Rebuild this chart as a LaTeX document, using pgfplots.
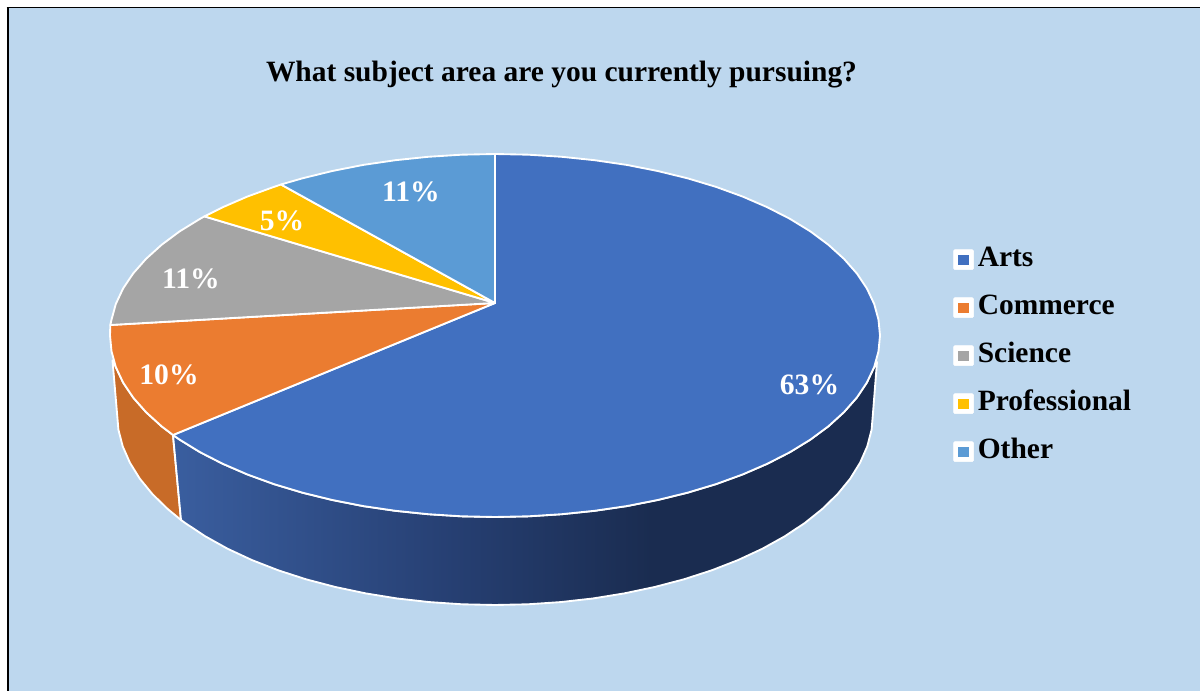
\documentclass[border=0pt]{standalone}
\usepackage{fontspec}
\setmainfont{Liberation Serif}
\usepackage{pgfplots}
\pgfplotsset{compat=1.18}

\definecolor{bgblue}{HTML}{BDD7EE}
\definecolor{arts}{HTML}{4170C0}
\definecolor{commerce}{HTML}{EB7C30}
\definecolor{science}{HTML}{A5A5A5}
\definecolor{professional}{HTML}{FFC000}
\definecolor{other}{HTML}{5B9BD5}
\definecolor{commerceside}{HTML}{C86B28}
\definecolor{sidea}{HTML}{3A5E9F}
\definecolor{sideb}{HTML}{263F72}
\definecolor{sidec}{HTML}{1A2C50}

\pgfdeclarehorizontalshading{artsside}{100bp}{
  color(0bp)=(sidea); color(25bp)=(sidea);
  color(45bp)=(sideb); color(59bp)=(sidec);
  color(75bp)=(sidec); color(100bp)=(sidec)}

\tikzset{
  slice/.style={draw=white, line width=1.4pt, line join=round},
  lab/.style={font=\fontsize{22.2}{22.2}\selectfont\bfseries, text=white},
}

\newcommand{\legendkey}[1]{\addlegendimage{legend image code/.code={
  \fill[white,rounded corners=1pt] (-7.5pt,-7.5pt) rectangle (7.5pt,7.5pt);
  \fill[#1] (-3.6pt,-3.6pt) rectangle (3.6pt,3.6pt);}}}

\begin{document}
\begin{tikzpicture}
\begin{axis}[
    scale only axis, width=900pt, height=518.25pt,
    xmin=0, xmax=1200, ymin=0, ymax=691, y dir=reverse,
    hide axis,
    legend cell align=left,
    legend style={at={(axis cs:953,246)}, anchor=north west, draw=none, fill=none,
      inner sep=0pt, row sep=16pt,
      font=\fontsize{22.1}{22.1}\selectfont\bfseries,
      /tikz/every odd column/.append style={column sep=3pt},
      nodes={inner sep=0pt, text height=15pt, text depth=5pt}},
]
% page and panel
\addplot[forget plot, fill=white, draw=none] coordinates {(0,0) (1200,0) (1200,691) (0,691)} --cycle;
\addplot[forget plot, fill=bgblue, draw=none] coordinates {(8,8) (1200,8) (1200,691) (8,691)} --cycle;
\addplot[forget plot, black, line width=1.9pt] coordinates {(7.8,691) (7.8,7.6)};
\addplot[forget plot, black, line width=1.3pt] coordinates {(6.5,7.6) (1200,7.6)};

% side walls
\addplot[forget plot, slice, fill=commerceside] coordinates {
  (112.5,360.4) (115.8,367.0) (123.1,382.5) (133.2,397.6) (146.1,412.2) (161.6,426.3) (173,435)
  (181,520) (167.7,509) (152.4,494.1) (139.8,478.7) (129.9,462.7) (122.7,446.3) (118.4,429.7) (117,413)
} --cycle;
\addplot[forget plot, slice, shade, shading=artsside] coordinates {
  (173,435) (179.6,439.6) (200.1,452.2) (222.8,463.8) (247.5,474.5) (274.2,484.2) (302.5,492.7)
  (332.3,500.0) (363.3,506.1) (395.4,510.8) (428.2,514.2) (461.4,516.3) (495,517)
  (528.6,516.3) (561.8,514.2) (594.6,510.8) (626.7,506.1) (657.7,500.0) (687.5,492.7)
  (715.8,484.2) (742.5,474.5) (767.2,463.8) (789.9,452.2) (810.4,439.6) (828.4,426.3)
  (843.9,412.2) (856.8,397.6) (866.9,382.5) (874.2,367.0) (877,362)
  (873,413) (871.6,429.7) (867.3,446.3) (860.1,462.7) (850.2,478.7) (837.6,494.1) (822.3,509)
  (804.7,523.1) (784.6,536.4) (762.3,548.8) (738,560.1) (711.8,570.3) (684,579.3)
  (654.7,587) (624.3,593.4) (592.8,598.5) (560.6,602.1) (528,604.3) (495,605)
  (462,604.3) (429.4,602.1) (397.2,598.5) (365.7,593.4) (335.3,587) (306,579.3)
  (278.2,570.3) (252,560.1) (227.7,548.8) (205.4,536.4) (185.3,523.1) (181,520)
} --cycle;

% top face
\addplot[forget plot, slice, fill=arts] coordinates {
  (495,303) (495,154) (528.6,154.7) (561.8,156.8) (594.6,160.2) (626.7,164.9) (657.7,171.0)
  (687.5,178.3) (715.8,186.8) (742.5,196.5) (767.2,207.2) (789.9,218.8) (810.4,231.4)
  (828.4,244.8) (843.9,258.8) (856.8,273.4) (866.9,288.5) (874.2,304.0) (878.5,319.7) (880,335.5)
  (878.5,351.3) (874.2,367.0) (866.9,382.5) (856.8,397.6) (843.9,412.2) (828.4,426.3)
  (810.4,439.6) (789.9,452.2) (767.2,463.8) (742.5,474.5) (715.8,484.2) (687.5,492.7)
  (657.7,500.0) (626.7,506.1) (594.6,510.8) (561.8,514.2) (528.6,516.3) (495,517)
  (461.4,516.3) (428.2,514.2) (395.4,510.8) (363.3,506.1) (332.3,500.0) (302.5,492.7)
  (274.2,484.2) (247.5,474.5) (222.8,463.8) (200.1,452.2) (179.6,439.6) (173,435)
} --cycle;
\addplot[forget plot, slice, fill=commerce] coordinates {
  (495,303) (173,435) (161.6,426.3) (146.1,412.2) (133.2,397.6) (123.1,382.5) (115.8,367.0)
  (111.5,351.3) (110,335.5) (110.3,325)
} --cycle;
\addplot[forget plot, slice, fill=science] coordinates {
  (495,303) (110.3,325) (111.5,319.7) (115.8,304.0) (123.1,288.5) (133.2,273.4) (146.1,258.8)
  (161.6,244.8) (179.6,231.4) (200.1,218.8) (204.4,216.4)
} --cycle;
\addplot[forget plot, slice, fill=professional] coordinates {
  (495,303) (204.4,216.4) (222.8,207.2) (247.5,196.5) (274.2,186.8) (281,184.5)
} --cycle;
\addplot[forget plot, slice, fill=other] coordinates {
  (495,303) (281,184.5) (302.5,178.3) (332.3,171.0) (363.3,164.9) (395.4,160.2) (428.2,156.8)
  (461.4,154.7) (495,154)
} --cycle;

% legend keys
\legendkey{arts}\addlegendentry{Arts}
\legendkey{commerce}\addlegendentry{Commerce}
\legendkey{science}\addlegendentry{Science}
\legendkey{professional}\addlegendentry{Professional}
\legendkey{other}\addlegendentry{Other}

\node[font=\fontsize{22.1}{22.1}\selectfont\bfseries] at (axis cs:561.5,75) {What subject area are you currently pursuing?};
\node[lab] at (axis cs:809.5,385) {63\%};
\node[lab] at (axis cs:169,375) {10\%};
\node[lab] at (axis cs:191,279) {11\%};
\node[lab] at (axis cs:282,221) {5\%};
\node[lab] at (axis cs:411,192) {11\%};
\end{axis}
\end{tikzpicture}
\end{document}
